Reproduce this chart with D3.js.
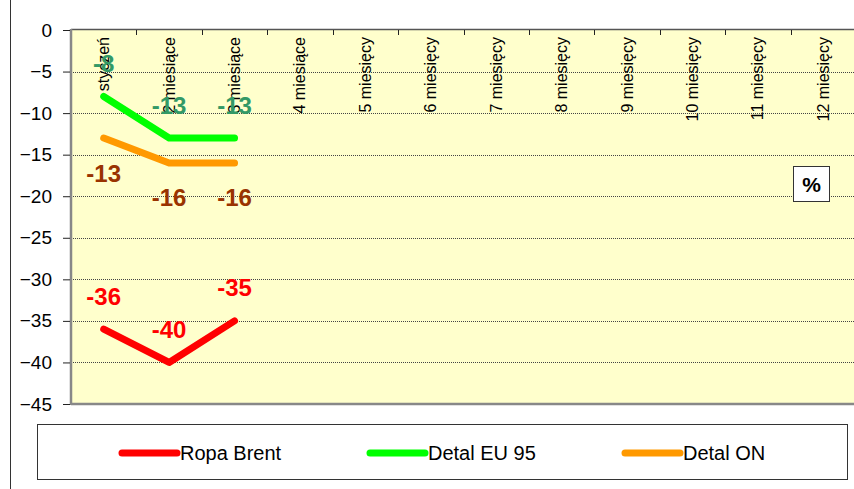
<!DOCTYPE html>
<html>
<head>
<meta charset="utf-8">
<script src="https://cdn.jsdelivr.net/npm/d3@7"></script>
<style>
  html, body { margin: 0; padding: 0; background: #fff; }
  svg { display: block; font-family: Arial, "Liberation Sans", sans-serif; }
</style>
</head>
<body>
<svg id="chart" width="854" height="489"></svg>
<script>
const categories = ["styczeń", "2 miesiące", "3 miesiące", "4 miesiące", "5 miesięcy", "6 miesięcy",
  "7 miesięcy", "8 miesięcy", "9 miesięcy", "10 miesięcy", "11 miesięcy", "12 miesięcy"];
const ropaBrent = [-36, -40, -35];
const detalEU95 = [-8, -13, -13];
const detalON = [-13, -16, -16];
const yTicks = [0, -5, -10, -15, -20, -25, -30, -35, -40, -45];
const seriesNames = ["Ropa Brent", "Detal EU 95", "Detal ON"];

const series = [
  { name: seriesNames[0], values: ropaBrent, color: "#FF0000", labelColor: "#FF0000", dy: -33 },
  { name: seriesNames[1], values: detalEU95, color: "#00FF00", labelColor: "#339966", dy: -33 },
  { name: seriesNames[2], values: detalON, color: "#FF9900", labelColor: "#993300", dy: 35 }
];

const svg = d3.select("#chart");
const pL = 71, pT = 30, pR = 856, pB = 404;

// outer chart frame (left edge)
svg.append("line").attr("x1", 10.5).attr("x2", 10.5).attr("y1", 0).attr("y2", 489)
  .attr("stroke", "#333").attr("stroke-width", 1);

const x = d3.scaleBand().domain(categories).range([pL, pR]).padding(0);
const y = d3.scaleLinear().domain([-45, 0]).range([pB, pT]);

// plot background
svg.append("rect").attr("x", pL).attr("y", pT).attr("width", pR - pL).attr("height", pB - pT)
  .attr("fill", "#FFFFCC");

// gridlines
svg.append("g").selectAll("line").data(yTicks.filter(d => d !== 0 && d !== -45)).join("line")
  .attr("x1", pL).attr("x2", pR)
  .attr("y1", d => Math.round(y(d)) + 0.5).attr("y2", d => Math.round(y(d)) + 0.5)
  .attr("stroke", "#444").attr("stroke-width", 1).attr("stroke-dasharray", "1,1");

// plot border
svg.append("line").attr("x1", pL).attr("x2", pR).attr("y1", pT - 0.5).attr("y2", pT - 0.5)
  .attr("stroke", "#555").attr("stroke-width", 1.5);
svg.append("line").attr("x1", pL).attr("x2", pR).attr("y1", pB).attr("y2", pB)
  .attr("stroke", "#888").attr("stroke-width", 2.5);
svg.append("line").attr("x1", pL).attr("x2", pL).attr("y1", pT - 1).attr("y2", pB + 1)
  .attr("stroke", "#888").attr("stroke-width", 2.5);

// y axis
const yAxis = d3.axisLeft(y).tickValues(yTicks).tickSize(7).tickPadding(11).tickFormat(d3.format("d"));
const yg = svg.append("g").attr("transform", `translate(${pL - 1},0)`).call(yAxis);
yg.select(".domain").remove();
yg.selectAll(".tick line").attr("stroke", "#222");
yg.selectAll(".tick text").attr("font-size", 19).attr("fill", "#000")
  .attr("font-family", "Arial, 'Liberation Sans', sans-serif");

// x category tick marks (top, inward)
svg.append("g").selectAll("line").data(categories).join("line")
  .attr("x1", d => Math.round(x(d) + x.bandwidth()) + 0.5)
  .attr("x2", d => Math.round(x(d) + x.bandwidth()) + 0.5)
  .attr("y1", pT).attr("y2", pT + 5).attr("stroke", "#222");

// category labels (rotated)
svg.append("g").selectAll("text").data(categories).join("text")
  .attr("transform", d => `translate(${x(d) + x.bandwidth() / 2},${pT + 7}) rotate(-90)`)
  .attr("text-anchor", "end").attr("dominant-baseline", "central")
  .attr("font-size", 16).attr("fill", "#000").text(d => d);

// lines
const line = d3.line().x((d, i) => x(categories[i]) + x.bandwidth() / 2).y(d => y(d));
svg.append("g").selectAll("path").data(series).join("path")
  .attr("d", s => line(s.values)).attr("fill", "none")
  .attr("stroke", s => s.color).attr("stroke-width", 7)
  .attr("stroke-linecap", "round").attr("stroke-linejoin", "round");

// data labels
series.forEach(s => {
  svg.append("g").selectAll("text").data(s.values).join("text")
    .attr("x", (d, i) => x(categories[i]) + x.bandwidth() / 2)
    .attr("y", d => y(d) + s.dy)
    .attr("text-anchor", "middle").attr("dominant-baseline", "central")
    .attr("font-size", 24).attr("font-weight", "bold").attr("fill", s.labelColor)
    .text(d => d);
});

// % box
svg.append("rect").attr("x", 793.5).attr("y", 166.5).attr("width", 36).attr("height", 35)
  .attr("fill", "#fff").attr("stroke", "#333").attr("stroke-width", 1);
svg.append("text").attr("x", 811.5).attr("y", 184.5).attr("text-anchor", "middle")
  .attr("dominant-baseline", "central").attr("font-size", 21).attr("font-weight", "bold").text("%");

// legend
svg.append("rect").attr("x", 37.5).attr("y", 424.5).attr("width", 810).attr("height", 55)
  .attr("fill", "#fff").attr("stroke", "#333").attr("stroke-width", 1);
const legendX = [122, 370, 625];
const lg = svg.append("g").selectAll("g").data(series).join("g")
  .attr("transform", (d, i) => `translate(${legendX[i]},453)`);
lg.append("line").attr("x1", 0).attr("x2", 55).attr("y1", 0).attr("y2", 0)
  .attr("stroke", d => d.color).attr("stroke-width", 7).attr("stroke-linecap", "round");
lg.append("text").attr("x", 58).attr("y", 0).attr("dominant-baseline", "central")
  .attr("font-size", 20).attr("fill", "#000").text(d => d.name);
</script>
</body>
</html>
